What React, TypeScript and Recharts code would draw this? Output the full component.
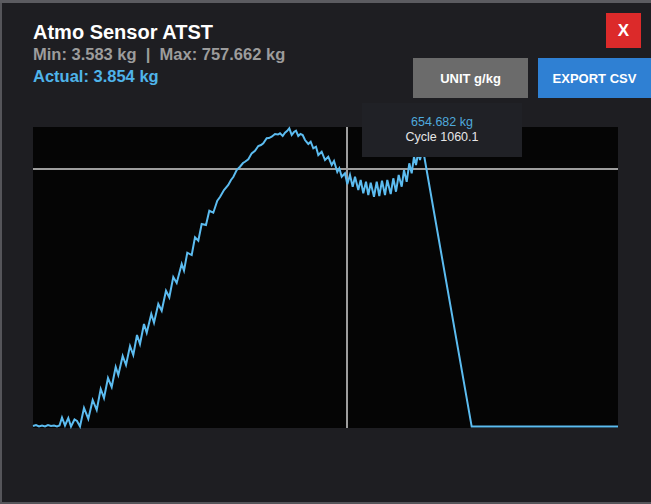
import React from 'react';
import { LineChart, Line, XAxis, YAxis, CartesianGrid, ReferenceLine } from 'recharts';

const cycles = [
  0, 10.1, 20.3, 30.4, 40.5, 50.6, 60.8, 70.9, 81.0, 89.5,
  97.9, 108.0, 119.2, 128.3, 140.1, 148.5, 158.7, 172.2, 186.7, 201.5,
  215.1, 228.6, 239.7, 253.2, 265.7, 279.2, 288.0, 302.8, 314.0, 327.5,
  338.6, 351.1, 361.2, 374.7, 383.9, 399.4, 408.5, 423.0, 434.5, 449.0,
  460.2, 473.6, 485.1, 502.0, 509.8, 520.9, 535.8, 546.9, 558.1, 569.5,
  584.0, 595.2, 608.7, 622.2, 631.3, 644.8, 659.3, 668.4, 676.2, 687.7,
  698.8, 709.0, 715.7, 726.9, 738.3, 749.5, 760.6, 769.7, 777.5, 789.0,
  796.7, 805.8, 817.0, 827.1, 833.9, 843.0, 850.8, 857.5, 865.3, 873.4,
  881.1, 887.9, 895.6, 903.1, 910.5, 918.3, 929.4, 937.5, 946.3, 955.4,
  963.2, 974.6, 985.8, 996.9, 1008.4, 1016.2, 1027.3, 1034.1, 1042.2, 1053.3,
  1061.1, 1070.2, 1079.3, 1087.1, 1098.2, 1106.3, 1115.1, 1124.2, 1132.0, 1140.1,
  1151.2, 1160.4, 1169.1, 1178.2, 1188.4, 1196.1, 1207.6, 1216.4, 1225.5, 1234.6,
  1244.7, 1252.5, 1261.6, 1270.4, 1278.5, 1286.3, 1293.0, 1300.8, 1306.5, 1315.0,
  1320.0, 1481.0, 1576.6, 1677.9, 1779.2, 1880.4, 1975.0,
];

const masses = [
  5.1, 7.6, 3.8, 6.3, 3.8, 7.6, 5.1, 6.3, 3.8, 6.3,
  26.5, 6.3, 25.3, 3.8, 21.5, 17.7, 3.9, 50.6, 22.8, 70.8,
  45.5, 98.6, 75.8, 126.4, 103.6, 154.2, 134.0, 182.0, 159.3, 207.3,
  184.5, 235.1, 212.4, 262.9, 240.9, 288.2, 266.2, 313.5, 296.5, 347.1,
  330.4, 381.7, 366.6, 414.6, 397.7, 443.2, 437.3, 482.1, 473.5, 515.7,
  513.2, 549.3, 544.3, 574.6, 584.0, 601.7, 614.3, 627.0, 634.5, 652.2,
  660.6, 669.9, 673.2, 679.3, 694.4, 701.0, 712.9, 715.4, 719.7, 732.4,
  733.1, 736.4, 743.2, 742.0, 745.0, 738.2, 746.5, 750.8, 757.662, 740.7,
  748.3, 751.6, 738.2, 743.2, 740.7, 728.1, 718.0, 723.8, 707.1, 711.1,
  690.1, 698.5, 677.5, 685.9, 664.9, 675.0, 647.2, 656.5, 635.3, 643.9,
  616.6, 639.6, 610.0, 635.3, 601.7, 627.0, 593.3, 622.6, 589.0, 620.1,
  584.7, 622.6, 586.5, 625.2, 589.0, 627.0, 591.6, 631.3, 597.4, 639.6,
  610.0, 652.2, 622.6, 669.2, 643.9, 685.9, 664.9, 697.7, 677.5, 705.3,
  690.1, 3.6, 3.583, 3.7, 3.6, 3.8, 3.854,
];

const data = cycles.map((cycle, i) => ({ cycle, mass: masses[i] }));

const cursorCycle = 1060.1;
const cursorMass = 654.682;

const font = '"Liberation Sans", Arial, sans-serif';

const App: React.FC = () => {
  return (
    <div style={{ position: 'fixed', left: 0, top: 0, width: 651, height: 504, background: '#5b5b60', fontFamily: font, overflow: 'hidden' }}>
      {/* modal panel */}
      <div style={{ position: 'absolute', left: 0, top: 3, width: 651, height: 501, background: '#1e1e22', borderLeft: '2px solid #55555a', borderBottom: '2px solid #55555a', boxSizing: 'border-box' }} />

      <div style={{ position: 'absolute', left: 33, top: 21, color: '#ffffff', fontWeight: 700, fontSize: 20 }}>
        Atmo Sensor ATST
      </div>
      <div style={{ position: 'absolute', left: 33, top: 45, color: '#9c9c9c', fontWeight: 700, fontSize: 16.5, whiteSpace: 'pre' }}>
        {'Min: 3.583 kg  |  Max: 757.662 kg'}
      </div>
      <div style={{ position: 'absolute', left: 33, top: 67, color: '#4fb4ea', fontWeight: 700, fontSize: 16.5 }}>
        Actual: 3.854 kg
      </div>

      <div style={{ position: 'absolute', left: 606, top: 13, width: 35, height: 35, background: '#dc2a2a', color: '#fff', fontWeight: 700, fontSize: 17, display: 'flex', alignItems: 'center', justifyContent: 'center' }}>
        X
      </div>
      <div style={{ position: 'absolute', left: 413, top: 58, width: 115, height: 40, background: '#6b6b6b', color: '#fff', fontWeight: 700, fontSize: 13, display: 'flex', alignItems: 'center', justifyContent: 'center' }}>
        UNIT g/kg
      </div>
      <div style={{ position: 'absolute', left: 538, top: 58, width: 113, height: 40, background: '#2f80d3', color: '#fff', fontWeight: 700, fontSize: 13, display: 'flex', alignItems: 'center', justifyContent: 'center' }}>
        EXPORT CSV
      </div>

      <div style={{ position: 'absolute', left: 0, top: 0 }}>
        <LineChart width={651} height={504} data={data} margin={{ top: 127, right: 33, bottom: 76, left: 33 }}>
          <CartesianGrid fill="#050505" horizontal={false} vertical={false} stroke="none" />
          <XAxis type="number" dataKey="cycle" domain={[0, 1975]} hide />
          <YAxis type="number" domain={[0, 761]} hide />
          <ReferenceLine x={cursorCycle} stroke="#9e9e9e" strokeWidth={2} />
          <ReferenceLine y={cursorMass} stroke="#9e9e9e" strokeWidth={2} />
          <Line type="linear" dataKey="mass" stroke="#5cbcf0" strokeWidth={2} dot={false} isAnimationActive={false} />
        </LineChart>
      </div>

      <div style={{ position: 'absolute', left: 362, top: 103, width: 160, height: 54, background: '#202126', textAlign: 'center', fontSize: 12.5 }}>
        <div style={{ color: '#4fa9dc', marginTop: 12 }}>654.682 kg</div>
        <div style={{ color: '#e6e6e6', marginTop: 1 }}>Cycle 1060.1</div>
      </div>
    </div>
  );
};

export default App;
